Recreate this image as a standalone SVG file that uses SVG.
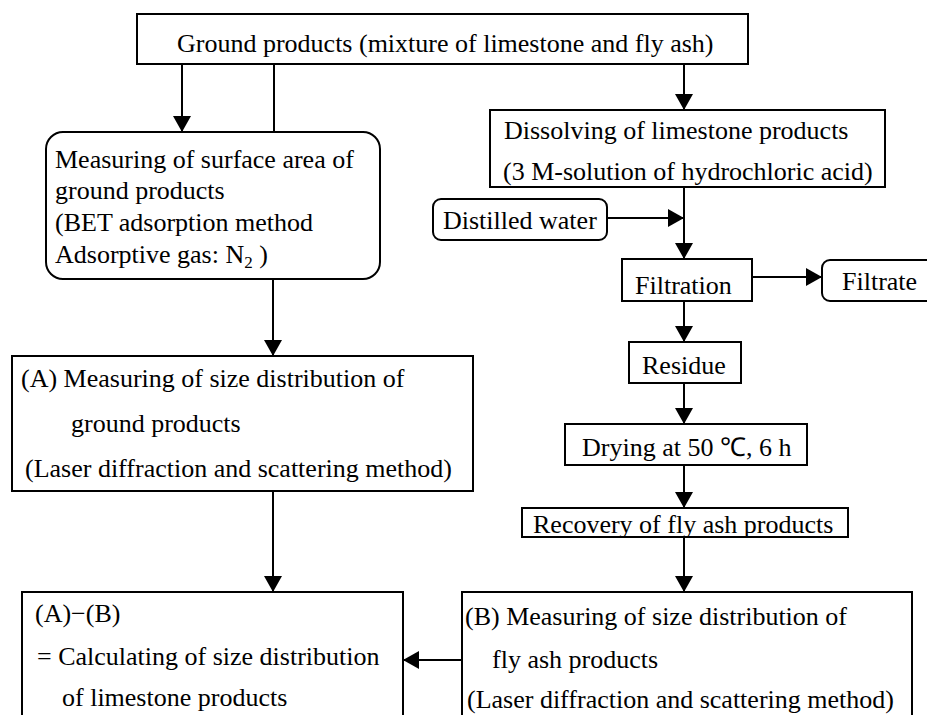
<svg xmlns="http://www.w3.org/2000/svg" width="927" height="715" viewBox="0 0 927 715">
<defs>
<style>
.box{fill:#fff;stroke:#000;stroke-width:2}
.t{font-family:"Liberation Serif","Times New Roman",serif;font-size:26px;fill:#000}
.c{stroke:#000;stroke-width:2;fill:none}
</style>
<marker id="ah" markerUnits="userSpaceOnUse" markerWidth="17" markerHeight="18" refX="16" refY="9" orient="auto" viewBox="0 0 17 18">
<path d="M0,0 L16,9 L0,18 z" fill="#000"/>
</marker>
</defs>
<rect width="927" height="715" fill="#fff"/>
<g id="connectors">
<line class="c" x1="182" y1="64" x2="182" y2="132" marker-end="url(#ah)"/>
<line class="c" x1="274" y1="64" x2="274" y2="132"/>
<line class="c" x1="684" y1="64" x2="684" y2="110" marker-end="url(#ah)"/>
<line class="c" x1="684" y1="187" x2="684" y2="259" marker-end="url(#ah)"/>
<line class="c" x1="607" y1="218" x2="684" y2="218" marker-end="url(#ah)"/>
<line class="c" x1="752" y1="277" x2="822" y2="277" marker-end="url(#ah)"/>
<line class="c" x1="684" y1="301" x2="684" y2="342" marker-end="url(#ah)"/>
<line class="c" x1="684" y1="383" x2="684" y2="424" marker-end="url(#ah)"/>
<line class="c" x1="684" y1="465" x2="684" y2="508" marker-end="url(#ah)"/>
<line class="c" x1="684" y1="537" x2="684" y2="592" marker-end="url(#ah)"/>
<line class="c" x1="273" y1="279" x2="273" y2="356" marker-end="url(#ah)"/>
<line class="c" x1="273" y1="491" x2="273" y2="592" marker-end="url(#ah)"/>
<line class="c" x1="462" y1="660" x2="403" y2="660" marker-end="url(#ah)"/>
</g>
<g id="ground">
<rect class="box" x="137" y="14" width="611" height="50"/>
<text class="t" x="177" y="52">Ground products (mixture of limestone and fly ash)</text>
</g>
<g id="surface">
<rect class="box" x="46" y="132" width="334" height="147" rx="17"/>
<text class="t" x="55" y="168">Measuring of surface area of</text>
<text class="t" x="55" y="199">ground products</text>
<text class="t" x="55" y="231">(BET adsorption method</text>
<text class="t" x="55" y="263">Adsorptive gas: N<tspan font-size="17" dy="5">2</tspan><tspan dy="-5"> )</tspan></text>
</g>
<g id="dissolving">
<rect class="box" x="490" y="110" width="395" height="77"/>
<text class="t" x="504" y="139">Dissolving of limestone products</text>
<text class="t" x="503" y="180">(3 M-solution of hydrochloric acid)</text>
</g>
<g id="water">
<rect class="box" x="433" y="199" width="174" height="41" rx="8"/>
<text class="t" x="443" y="229">Distilled water</text>
</g>
<g id="filtration">
<rect class="box" x="622" y="259" width="130" height="42"/>
<text class="t" x="635" y="294">Filtration</text>
</g>
<g id="filtrate">
<rect class="box" x="822" y="260" width="115" height="41" rx="8"/>
<text class="t" x="842" y="290">Filtrate</text>
</g>
<g id="residue">
<rect class="box" x="629" y="342" width="112" height="41"/>
<text class="t" x="642" y="374">Residue</text>
</g>
<g id="drying">
<rect class="box" x="565" y="424" width="242" height="41"/>
<text class="t" x="582" y="456">Drying at 50 ℃, 6 h</text>
</g>
<g id="recovery">
<rect class="box" x="522" y="508" width="326" height="29"/>
<text class="t" x="533" y="533">Recovery of fly ash products</text>
</g>
<g id="measureA">
<rect class="box" x="12" y="356" width="461" height="135"/>
<text class="t" x="21" y="387">(A) Measuring of size distribution of</text>
<text class="t" x="71" y="432">ground products</text>
<text class="t" x="25" y="477">(Laser diffraction and scattering method)</text>
</g>
<g id="calc">
<rect class="box" x="22" y="592" width="381" height="130"/>
<text class="t" x="35" y="622">(A)−(B)</text>
<text class="t" x="37" y="665">= Calculating of size distribution</text>
<text class="t" x="62" y="706">of limestone products</text>
</g>
<g id="measureB">
<rect class="box" x="462" y="592" width="450" height="130"/>
<text class="t" x="465" y="625">(B) Measuring of size distribution of</text>
<text class="t" x="492" y="668">fly ash products</text>
<text class="t" x="467" y="708">(Laser diffraction and scattering method)</text>
</g>
</svg>
